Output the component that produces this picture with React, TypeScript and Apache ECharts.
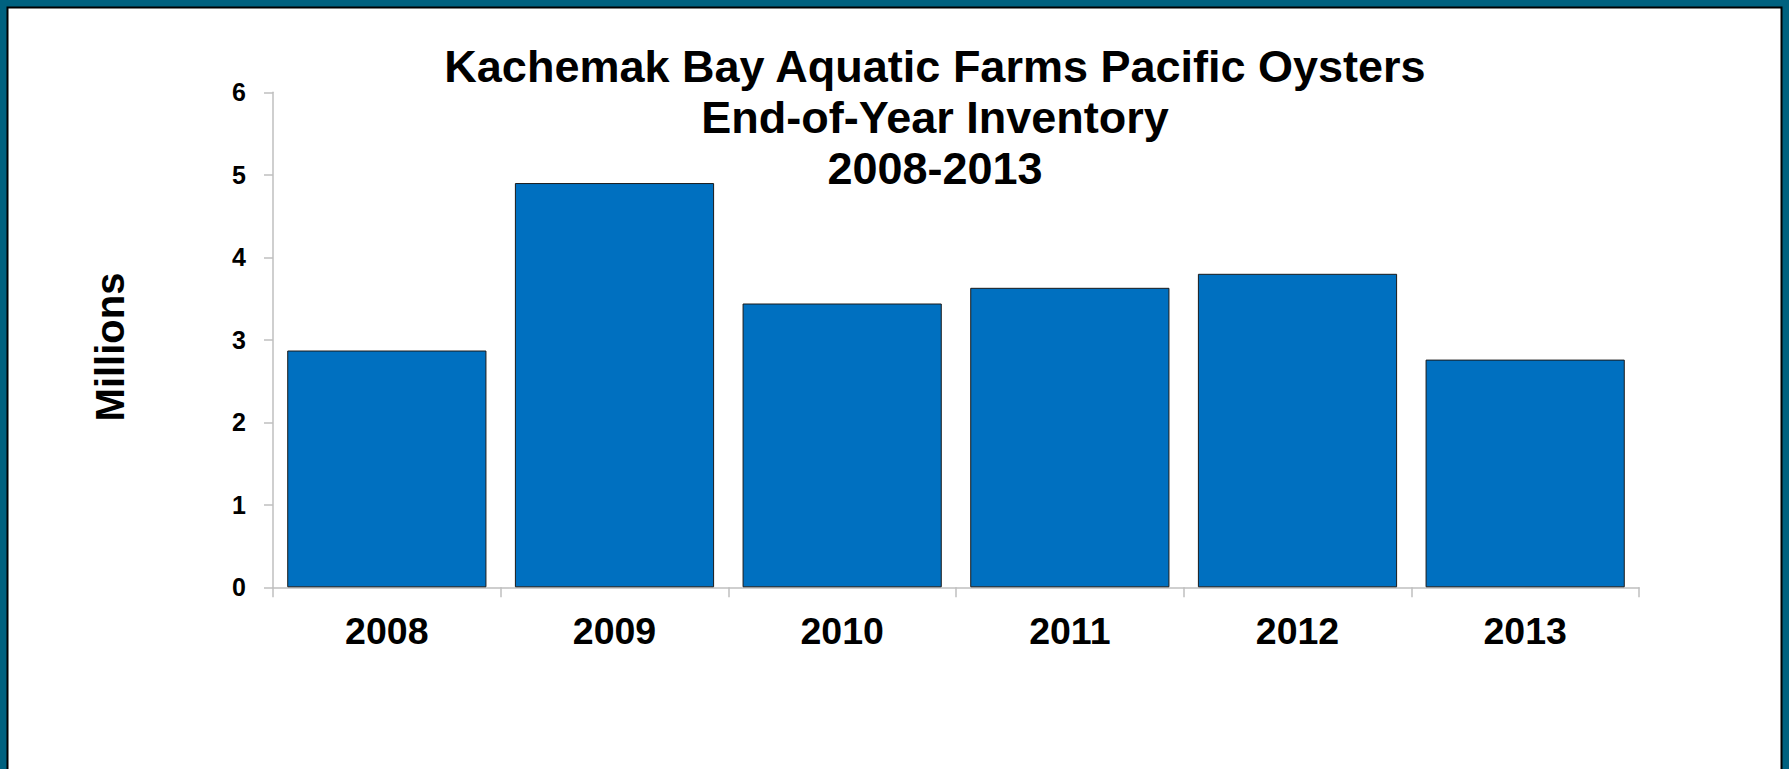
import React, { useEffect, useRef } from "react";
import * as echarts from "echarts";

const years = ["2008", "2009", "2010", "2011", "2012", "2013"];
const inventoryMillions = [2.87, 4.9, 3.44, 3.63, 3.8, 2.76];
const titleLines = [
  "Kachemak Bay Aquatic Farms Pacific Oysters",
  "End-of-Year Inventory",
  "2008-2013",
];
const yAxisName = "Millions";

const FONT = '"Liberation Sans", Arial, sans-serif';

export default function App() {
  const ref = useRef<HTMLDivElement>(null);
  useEffect(() => {
    document.body.style.margin = "0";
    const chart = echarts.init(ref.current!, null, { renderer: "svg" });
    chart.setOption({
      animation: false,
      backgroundColor: "#ffffff",
      graphic: [
        {
          type: "rect",
          z: -10,
          silent: true,
          shape: { x: 0, y: 0, width: 1789, height: 769 },
          style: { fill: "#00617f" },
        },
        {
          type: "rect",
          z: -9,
          silent: true,
          shape: { x: 7.5, y: 7.5, width: 1774, height: 800 },
          style: { fill: "#ffffff", stroke: "#000000", lineWidth: 2 },
        },
        {
          type: "text",
          x: 110,
          y: 347,
          rotation: Math.PI / 2,
          style: {
            text: yAxisName,
            fontFamily: FONT,
            fontWeight: "bold",
            fontSize: 40,
            fill: "#000000",
            align: "center",
            verticalAlign: "middle",
          },
        },
      ],
      title: {
        text: titleLines.join("\n"),
        left: 930,
        textAlign: "center",
        top: 36,
        textStyle: {
          fontFamily: FONT,
          fontWeight: "bold",
          fontSize: 45,
          lineHeight: 51,
          color: "#000000",
        },
      },
      grid: {
        left: 273,
        right: 150,
        top: 92.3,
        bottom: 181.7,
        containLabel: false,
      },
      xAxis: {
        type: "category",
        data: years,
        axisLine: { show: true, lineStyle: { color: "#bfbfbf", width: 1.5 } },
        axisTick: { show: true, alignWithLabel: false, length: 10, lineStyle: { color: "#bfbfbf", width: 1.5 } },
        axisLabel: {
          margin: 25,
          fontFamily: FONT,
          fontWeight: "bold",
          fontSize: 37.5,
          color: "#000000",
        },
      },
      yAxis: {
        type: "value",
        min: 0,
        max: 6,
        interval: 1,
        axisLine: { show: true, lineStyle: { color: "#bfbfbf", width: 1.5 } },
        axisTick: { show: true, inside: false, length: 9, lineStyle: { color: "#bfbfbf", width: 1.5 } },
        splitLine: { show: false },
        axisLabel: {
          margin: 27,
          fontFamily: FONT,
          fontWeight: "bold",
          fontSize: 25,
          color: "#000000",
        },
      },
      series: [
        {
          type: "bar",
          data: inventoryMillions,
          barCategoryGap: "12.5%",
          itemStyle: { color: "#0070c0", borderColor: "#1a1a1a", borderWidth: 1 },
        },
      ],
    });
    return () => chart.dispose();
  }, []);
  return <div ref={ref} style={{ width: 1789, height: 769 }} />;
}
